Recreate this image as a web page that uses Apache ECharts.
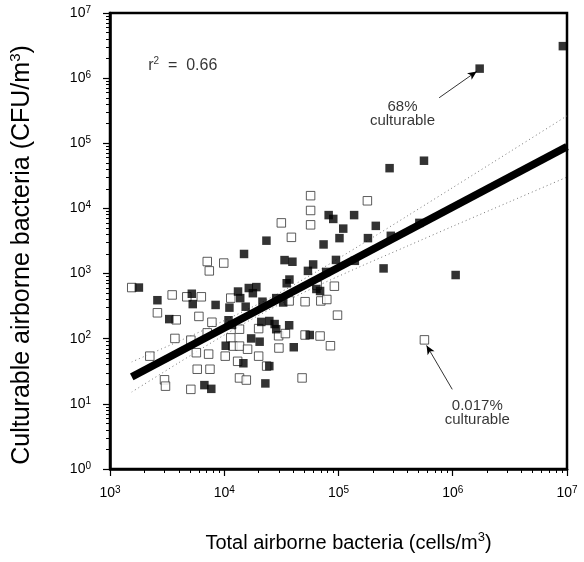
<!DOCTYPE html>
<html><head><meta charset="utf-8">
<script src="https://cdn.jsdelivr.net/npm/echarts@6/dist/echarts.min.js"></script>
<style>html,body{margin:0;padding:0;background:#fff}#c{width:584px;height:562px}</style>
</head><body><div id="c"></div>
<script>
// ---- data ----
const xTickPowers = [3, 4, 5, 6, 7];
const yTickPowers = [0, 1, 2, 3, 4, 5, 6, 7];
const xTitle = 'Total airborne bacteria (cells/m';
const yTitle = 'Culturable airborne bacteria (CFU/m';
const filledX = [9.2e6,1.72e6,5.6e5,2.8e5,8.2e4,9.0e4,1.37e5,1.10e5,2.12e5,5.1e5,2.34e4,1.02e5,1.81e5,2.87e5,7.4e4,1.49e4,3.37e4,3.95e4,9.5e4,1.39e5,6.0e4,5.4e4,2.48e5,1.06e6,7.8e4,1.79e3,3.72e4,3.52e4,6.4e4,6.9e4,1.64e4,1.91e4,1.78e4,1.32e4,1.38e4,2.6e3,5.2e3,5.3e3,8.4e3,1.11e4,1.54e4,2.16e4,2.85e4,3.28e4,3.3e3,1.09e4,1.17e4,2.11e4,2.48e4,2.76e4,2.85e4,3.7e4,1.72e4,2.04e4,5.6e4,4.06e4,1.03e4,1.47e4,2.48e4,6.7e3,7.7e3,2.29e4];
const filledY = [3.1e6,1.40e6,5.4e4,4.15e4,7.9e3,6.9e3,7.9e3,4.9e3,5.4e3,6.0e3,3.2e3,3.5e3,3.5e3,3.8e3,2.8e3,2.0e3,1.61e3,1.52e3,1.62e3,1.57e3,1.38e3,1.10e3,1.20e3,950,1.06e3,610,810,710,580,540,600,620,500,530,420,390,490,340,330,300,310,370,420,360,200,192,163,181,187,168,140,161,101,90,114,74,78,42,38,19.4,17,20.6];
const openX = [5.7e4,1.79e5,5.7e4,3.16e4,5.7e4,3.87e4,7.1e3,9.9e3,7.4e3,1.55e3,6.5e4,9.2e4,3.5e3,4.7e3,6.3e3,1.14e4,3.7e4,5.1e4,7.0e4,7.9e4,2.6e3,3.8e3,6.0e3,7.8e3,9.8e4,2.0e4,1.36e4,1.14e4,3.7e3,5.1e3,7.1e3,2.99e4,3.43e4,5.1e4,6.9e4,8.5e4,3.01e4,1.19e4,1.36e4,1.60e4,1.02e4,5.7e3,7.3e3,2.23e3,2.0e4,1.31e4,2.35e4,5.8e3,7.5e3,3.0e3,3.06e3,5.1e3,1.36e4,1.56e4,4.8e4,5.65e5];
const openY = [1.57e4,1.31e4,9.3e3,6.0e3,5.6e3,3.6e3,1.53e3,1.45e3,1.10e3,610,660,640,470,440,440,420,380,370,380,400,250,195,220,179,230,143,140,103,101,95,123,111,120,114,110,78,72,77,77,69,54,61,58,54,54,45,38,34,34,23.4,18.7,16.7,25,23.2,25,96];
const fitX = [1.55e3, 1e7];
const fitY = [26, 8.9e4];
const bandX = [1.55e3,3.98e3,1e4,2.51e4,6.31e4,1.58e5,3.98e5,1e6,3.16e6,1e7];
const bandUpper = [44,91,190,421,1050,2790,7620,2.09e4,7.41e4,2.64e5];
const bandLower = [15.2,42.6,114,283,627,1300,2630,5320,1.27e4,3.03e4];
const rSquared = '0.66';
const noteTexts = ['68%\nculturable', '0.017%\nculturable'];
const noteX = [3.63e5, 1.64e6];
const noteY = [2.83e5, 7.3];
const arrowFrom = [[7.6e5, 5.0e5], [9.9e5, 16.7]];
const arrowTo = [[1.62e6, 1.27e6], [5.9e5, 79]];
const rPos = [2.16e3, 1.57e6];

// ---- chart ----
const FONT = 'Liberation Sans';
const zip = (a, b) => a.map((v, i) => [v, b[i]]);
function minorLogs(p0, p1) {
  const out = [];
  for (let d = p0; d < p1; d++) for (let k = 2; k <= 9; k++) out.push(d + Math.log10(k));
  return out;
}
const tickRich = {
  b: {fontSize: 14, lineHeight: 16, verticalAlign: 'middle', fontFamily: FONT, color: '#000'},
  s: {fontSize: 10, lineHeight: 10, verticalAlign: 'top', fontFamily: FONT, color: '#000'}
};
const powLabel = v => '{b|10}{s|' + Math.round(Math.log10(v)) + '}';
const gridCfg = {left: 108, right: 17, top: 13, bottom: 93};

const chart = echarts.init(document.getElementById('c'), null, {renderer: 'canvas'});
chart.setOption({
  animation: false,
  backgroundColor: '#fff',
  grid: Object.assign({show: true, borderColor: '#000', borderWidth: 2.5, backgroundColor: 'transparent'}, gridCfg),
  xAxis: [{
    type: 'log', logBase: 10,
    min: Math.pow(10, xTickPowers[0]), max: Math.pow(10, xTickPowers[xTickPowers.length - 1]),
    splitNumber: xTickPowers.length - 1,
    name: '{t|' + xTitle + '}{s|3}{t|)}', nameLocation: 'middle', nameGap: 62,
    nameTextStyle: {padding: [0, 0, 0, 20], rich: {
      t: {fontSize: 20, lineHeight: 24, verticalAlign: 'middle', fontFamily: FONT, color: '#000'},
      s: {fontSize: 13, lineHeight: 13, verticalAlign: 'top', fontFamily: FONT, color: '#000'}}},
    axisLine: {show: true, lineStyle: {color: '#000', width: 2.5}},
    axisTick: {show: true, length: 7, inside: false, lineStyle: {color: '#000', width: 1.2}},
    axisLabel: {show: true, margin: 16, formatter: powLabel, rich: tickRich},
    splitLine: {show: false}
  }, {
    type: 'value', gridIndex: 0, position: 'bottom',
    min: xTickPowers[0], max: xTickPowers[xTickPowers.length - 1],
    axisLine: {show: false}, axisLabel: {show: false}, splitLine: {show: false},
    axisTick: {show: true, length: 4, inside: false, customValues: minorLogs(xTickPowers[0], xTickPowers[xTickPowers.length - 1]), lineStyle: {color: '#000', width: 1}}
  }],
  yAxis: [{
    type: 'log', logBase: 10,
    min: Math.pow(10, yTickPowers[0]), max: Math.pow(10, yTickPowers[yTickPowers.length - 1]),
    splitNumber: yTickPowers.length - 1,
    name: '{t|' + yTitle + '}{s|3}{t|)}', nameLocation: 'middle', nameGap: 74,
    nameTextStyle: {padding: [0, 28, 0, 0], rich: {
      t: {fontSize: 25, lineHeight: 28, verticalAlign: 'middle', fontFamily: FONT, color: '#000'},
      s: {fontSize: 15, lineHeight: 15, verticalAlign: 'top', fontFamily: FONT, color: '#000'}}},
    axisLine: {show: true, lineStyle: {color: '#000', width: 2.5}},
    axisTick: {show: true, length: 7, inside: false, lineStyle: {color: '#000', width: 1.2}},
    axisLabel: {show: true, margin: 19, formatter: powLabel, rich: tickRich},
    splitLine: {show: false}
  }, {
    type: 'value', gridIndex: 0, position: 'left',
    min: yTickPowers[0], max: yTickPowers[yTickPowers.length - 1],
    axisLine: {show: false}, axisLabel: {show: false}, splitLine: {show: false},
    axisTick: {show: true, length: 4, inside: false, customValues: minorLogs(yTickPowers[0], yTickPowers[yTickPowers.length - 1]), lineStyle: {color: '#000', width: 1}}
  }],
  series: [
    {type: 'line', data: zip(bandX, bandUpper), smooth: 0.3, symbol: 'none', z: 2,
     lineStyle: {color: '#777', width: 1, type: [1, 3]}},
    {type: 'line', data: zip(bandX, bandLower), smooth: 0.3, symbol: 'none', z: 2,
     lineStyle: {color: '#777', width: 1, type: [1, 3]}},
    {type: 'scatter', data: zip(openX, openY), symbol: 'rect', symbolSize: 8.5, z: 3,
     itemStyle: {color: '#fff', borderColor: '#333', borderWidth: 1}},
    {type: 'scatter', data: zip(filledX, filledY), symbol: 'rect', symbolSize: 8.5, z: 4,
     itemStyle: {color: '#000'}},
    {type: 'line', data: zip(fitX, fitY), symbol: 'none', z: 5,
     lineStyle: {color: '#000', width: 7.5, cap: 'butt'}},
    {type: 'scatter', symbolSize: 0, z: 6, silent: true,
     data: noteTexts.map((t, i) => ({value: [noteX[i], noteY[i]], label: {formatter: t}})),
     label: {show: true, position: 'inside', fontSize: 15, lineHeight: 14, fontFamily: FONT, color: '#000', align: 'center'},
     markLine: {silent: true, symbol: ['none', 'arrow'], symbolSize: [6, 9], label: {show: false},
       lineStyle: {color: '#000', width: 0.8, type: 'solid'},
       data: arrowFrom.map((f, i) => [{coord: f}, {coord: arrowTo[i]}])}},
    {type: 'scatter', symbolSize: 0, z: 6, silent: true,
     data: [{value: rPos}],
     label: {show: true, position: 'inside', align: 'left', formatter: '{b|r}{s|2}{b|  =  ' + rSquared + '}',
       rich: {b: {fontSize: 16, lineHeight: 18, verticalAlign: 'middle', fontFamily: FONT, color: '#000'},
              s: {fontSize: 10, lineHeight: 10, verticalAlign: 'top', fontFamily: FONT, color: '#000'}}}}
  ]
});
</script></body></html>
